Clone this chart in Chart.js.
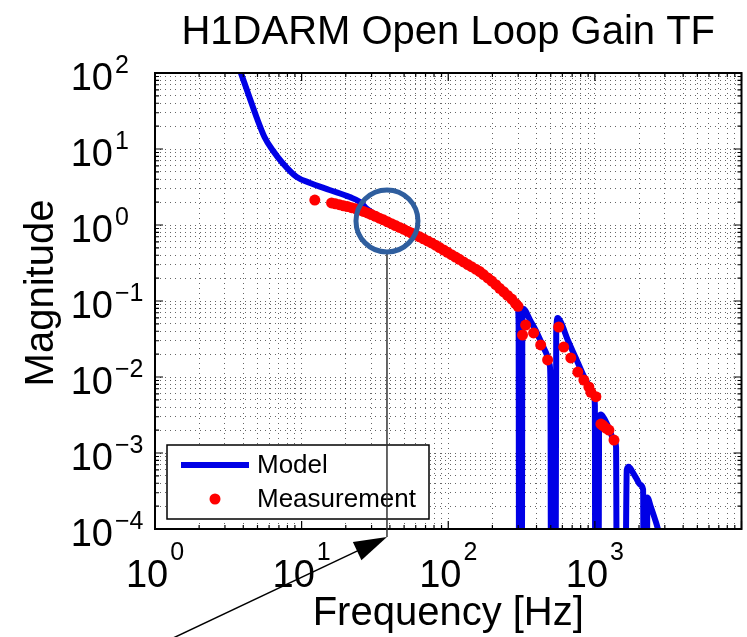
<!DOCTYPE html>
<html>
<head>
<meta charset="utf-8">
<script src="https://cdn.jsdelivr.net/npm/chart.js@4.4.1/dist/chart.umd.min.js"></script>
<style>
  html, body { margin: 0; padding: 0; background: #fff; }
  #wrap { width: 747px; height: 637px; position: relative; }
</style>
</head>
<body>
<div id="wrap"><canvas id="olg"></canvas></div>
<script>
// values (Hz, |G|)
const modelFreq = [3.7, 3.94, 4.4, 4.92, 5.58, 6.33, 7.41, 9.24, 11.3, 15.5, 21.3, 25, 28, 32, 38, 45, 55, 70, 90, 120,
  160, 200, 240, 270, 290, 298, 302, 304, 318, 320, 326, 335, 360, 394, 430, 462, 492, 498, 502, 540,
  545, 558, 585, 653, 741, 867, 984, 1000, 1005, 1060, 1068, 1099, 1150, 1250, 1350, 1395, 1410, 1610, 1650, 1700,
  1800, 1910, 2050, 2133, 2150, 2260, 2280, 2400, 2618, 2900];
const modelMag = [125, 88.6, 48.3, 26.4, 14.4, 9.7, 6.55, 4.29, 3.6, 2.89, 2.33, 2.01, 1.62, 1.36, 1.13, 0.97, 0.80, 0.63, 0.48, 0.355,
  0.25, 0.18, 0.13, 0.106, 0.092, 0.084, 0.05, 1e-5, 1e-5, 0.05, 0.079, 0.075, 0.057, 0.0415, 0.029, 0.0213, 0.0144, 0.008, 1e-5, 1e-5,
  0.04, 0.0597, 0.053, 0.0307, 0.0178, 0.0091, 0.0058, 0.0042, 1e-5, 1e-5, 0.0025, 0.0032, 0.0029, 0.0021, 0.00148, 0.0012, 1e-5, 1e-5, 0.0006, 0.00066,
  0.00057, 0.00047, 0.00038, 0.00033, 1e-5, 1e-5, 0.00026, 0.0002, 0.00012, 0.00006];

const measFreq = [12.3, 16, 17, 18.1, 19.3, 20.5, 21.9, 23.3, 24.8, 26.4, 28.1, 29.9, 31.9, 33.9, 36.1, 38.5, 41, 43.6, 46.5, 49.5,
  52.7, 56.1, 59.8, 63.7, 67.8, 72.2, 76.9, 81.9, 87.2, 92.9, 98.9, 105, 112, 119, 127, 136, 144, 154, 164, 174,
  186, 198, 211, 224, 239, 254, 271, 288, 299, 321, 337, 382, 427, 476, 567, 613, 685, 765, 841, 910,
  939, 1016, 1099, 1135, 1189, 1247, 1350];
const measMag = [2.13, 1.95, 1.90, 1.85, 1.79, 1.75, 1.69, 1.64, 1.58, 1.51, 1.44, 1.37, 1.30, 1.23, 1.17, 1.10, 1.04, 0.985, 0.93, 0.88,
  0.83, 0.785, 0.743, 0.70, 0.658, 0.618, 0.58, 0.542, 0.504, 0.469, 0.437, 0.407, 0.378, 0.353, 0.327, 0.302, 0.283, 0.262, 0.244, 0.223,
  0.201, 0.183, 0.164, 0.147, 0.132, 0.1185, 0.106, 0.0924, 0.085, 0.0357, 0.0483, 0.038, 0.0264, 0.0168, 0.0455, 0.0248, 0.0178, 0.0116, 0.0091, 0.0074,
  0.0063, 0.0055, 0.0024, 0.0023, 0.00213, 0.0020, 0.00148];

const xExps = [0, 1, 2, 3];            // labelled decades on x (10^4 is the cut edge)
const yExps = [-4, -3, -2, -1, 0, 1, 2];
const titleText = "H1DARM Open Loop Gain TF";
const xTitle = "Frequency [Hz]";
const yTitle = "Magnitude";
const seriesNames = ["Model", "Measurement"];
const markedPoint = { f: 38.2, mag: 1.13 };   // circled spot + arrow

const FONT = '"Liberation Sans", Arial, Helvetica, sans-serif';
const BLUE = "#0000e6", RED = "#ff0000";

function logTicks(lo, hi){
  const out = [];
  for (let e = lo; e < hi; e++)
    for (let s = 1; s < 10; s++) out.push({ value: +(s * Math.pow(10, e)).toPrecision(3) });
  out.push({ value: Math.pow(10, hi) });
  return out;
}

function isDecade(v){
  const l = Math.log10(v);
  return Math.abs(l - Math.round(l)) < 1e-6;
}

function supText(exp){
  return exp < 0 ? "\u2212" + (-exp) : String(exp);
}

const decor = {
  id: "decor",
  afterDraw(chart){
    const { ctx, chartArea: a, scales: { x, y } } = chart;
    ctx.save();

    // axes box
    ctx.strokeStyle = "#000";
    ctx.lineWidth = 2;
    ctx.strokeRect(a.left, a.top, a.right - a.left, a.bottom - a.top);

    // inward tick marks, all four sides
    ctx.lineWidth = 1.2;
    ctx.beginPath();
    x.ticks.forEach(t => {
      const px = x.getPixelForValue(t.value);
      const len = isDecade(t.value) ? 8 : 4;
      ctx.moveTo(px, a.bottom); ctx.lineTo(px, a.bottom - len);
      ctx.moveTo(px, a.top); ctx.lineTo(px, a.top + len);
    });
    y.ticks.forEach(t => {
      const py = y.getPixelForValue(t.value);
      const len = isDecade(t.value) ? 8 : 4;
      ctx.moveTo(a.left, py); ctx.lineTo(a.left + len, py);
      ctx.moveTo(a.right, py); ctx.lineTo(a.right - len, py);
    });
    ctx.stroke();

    // tick labels 10^n
    ctx.fillStyle = "#000";
    ctx.textBaseline = "alphabetic";
    xExps.forEach(e => {
      const px = x.getPixelForValue(Math.pow(10, e));
      ctx.font = "38px " + FONT;
      const wb = ctx.measureText("10").width;
      ctx.font = "25px " + FONT;
      const ws = ctx.measureText(supText(e)).width;
      const left = px - (wb + 2 + ws) / 2;
      ctx.textAlign = "left";
      ctx.font = "38px " + FONT;
      ctx.fillText("10", left, a.bottom + 58);
      ctx.font = "25px " + FONT;
      ctx.fillText(supText(e), left + wb + 2, a.bottom + 31);
    });
    yExps.forEach(e => {
      const py = y.getPixelForValue(Math.pow(10, e));
      const right = a.left - 42;
      ctx.textAlign = "right";
      ctx.font = "38px " + FONT;
      ctx.fillText("10", right, py + 17);
      ctx.textAlign = "left";
      ctx.font = "25px " + FONT;
      ctx.fillText(supText(e), right + 2, py);
    });

    // titles
    const cx = (a.left + a.right) / 2;
    ctx.textAlign = "center";
    ctx.font = "40px " + FONT;
    ctx.fillText(titleText, cx, 44);
    ctx.fillText(xTitle, cx, 625);
    ctx.save();
    ctx.translate(53, (a.top + a.bottom) / 2 - 8);
    ctx.rotate(-Math.PI / 2);
    ctx.fillText(yTitle, 0, 0);
    ctx.restore();

    // legend box
    const lx = a.left + 12, ly = a.bottom - 84, lw = 262, lh = 74;
    ctx.fillStyle = "#fff";
    ctx.fillRect(lx, ly, lw, lh);
    ctx.strokeStyle = "#000";
    ctx.lineWidth = 1.5;
    ctx.strokeRect(lx, ly, lw, lh);
    ctx.strokeStyle = BLUE;
    ctx.lineWidth = 6;
    ctx.beginPath();
    ctx.moveTo(lx + 14, ly + 20); ctx.lineTo(lx + 82, ly + 20);
    ctx.stroke();
    ctx.fillStyle = RED;
    ctx.beginPath();
    ctx.arc(lx + 48, ly + 54, 5.5, 0, Math.PI * 2);
    ctx.fill();
    ctx.fillStyle = "#000";
    ctx.textAlign = "left";
    ctx.textBaseline = "middle";
    ctx.font = "26px " + FONT;
    ctx.fillText(seriesNames[0], lx + 90, ly + 21);
    ctx.fillText(seriesNames[1], lx + 90, ly + 55);

    // circle, drop line and arrow
    const mx = x.getPixelForValue(markedPoint.f);
    const my = y.getPixelForValue(markedPoint.mag);
    const r = 31;
    const tipY = a.bottom + 8;
    ctx.strokeStyle = "#333";
    ctx.lineWidth = 1.5;
    ctx.beginPath();
    ctx.moveTo(mx, my + r + 2); ctx.lineTo(mx, tipY);
    ctx.stroke();
    const dx = -0.904, dy = 0.427;
    ctx.strokeStyle = "#000";
    ctx.beginPath();
    ctx.moveTo(mx + dx * 25, tipY + dy * 25);
    ctx.lineTo(mx + dx * 260, tipY + dy * 260);
    ctx.stroke();
    const bx = mx + dx * 33, by = tipY + dy * 33;
    ctx.fillStyle = "#000";
    ctx.beginPath();
    ctx.moveTo(mx, tipY);
    ctx.lineTo(bx + dy * 10, by - dx * 10);
    ctx.lineTo(bx - dy * 10, by + dx * 10);
    ctx.closePath();
    ctx.fill();
    ctx.strokeStyle = "#2f5e9e";
    ctx.lineWidth = 5;
    ctx.beginPath();
    ctx.arc(mx, my, r, 0, Math.PI * 2);
    ctx.stroke();

    ctx.restore();
  }
};

const gridOpts = { color: "rgba(0,0,0,0.6)", lineWidth: 1, drawTicks: false };

new Chart(document.getElementById("olg"), {
  type: "scatter",
  data: {
    datasets: [
      {
        label: seriesNames[1],
        data: measFreq.map((f, i) => ({ x: f, y: measMag[i] })),
        pointRadius: 5.5,
        pointBackgroundColor: RED,
        pointBorderWidth: 0,
        showLine: false,
        order: 0
      },
      {
        label: seriesNames[0],
        data: modelFreq.map((f, i) => ({ x: f, y: modelMag[i] })),
        showLine: true,
        borderColor: BLUE,
        borderWidth: 6,
        borderJoinStyle: "round",
        cubicInterpolationMode: "monotone",
        pointRadius: 0,
        clip: 0,
        order: 1
      }
    ]
  },
  options: {
    responsive: true,
    maintainAspectRatio: false,
    animation: false,
    events: [],
    layout: { padding: { left: 155, right: 4, top: 73, bottom: 108 } },
    plugins: { legend: { display: false }, tooltip: { enabled: false }, title: { display: false } },
    scales: {
      x: {
        type: "logarithmic", min: 1, max: 10000,
        afterBuildTicks: s => { s.ticks = logTicks(0, 4); },
        ticks: { display: false },
        grid: gridOpts,
        border: { display: false, dash: [1, 4] }
      },
      y: {
        type: "logarithmic", min: 1e-4, max: 100,
        afterBuildTicks: s => { s.ticks = logTicks(-4, 2); },
        ticks: { display: false },
        grid: gridOpts,
        border: { display: false, dash: [1, 4] }
      }
    }
  },
  plugins: [decor]
});
</script>
</body>
</html>
